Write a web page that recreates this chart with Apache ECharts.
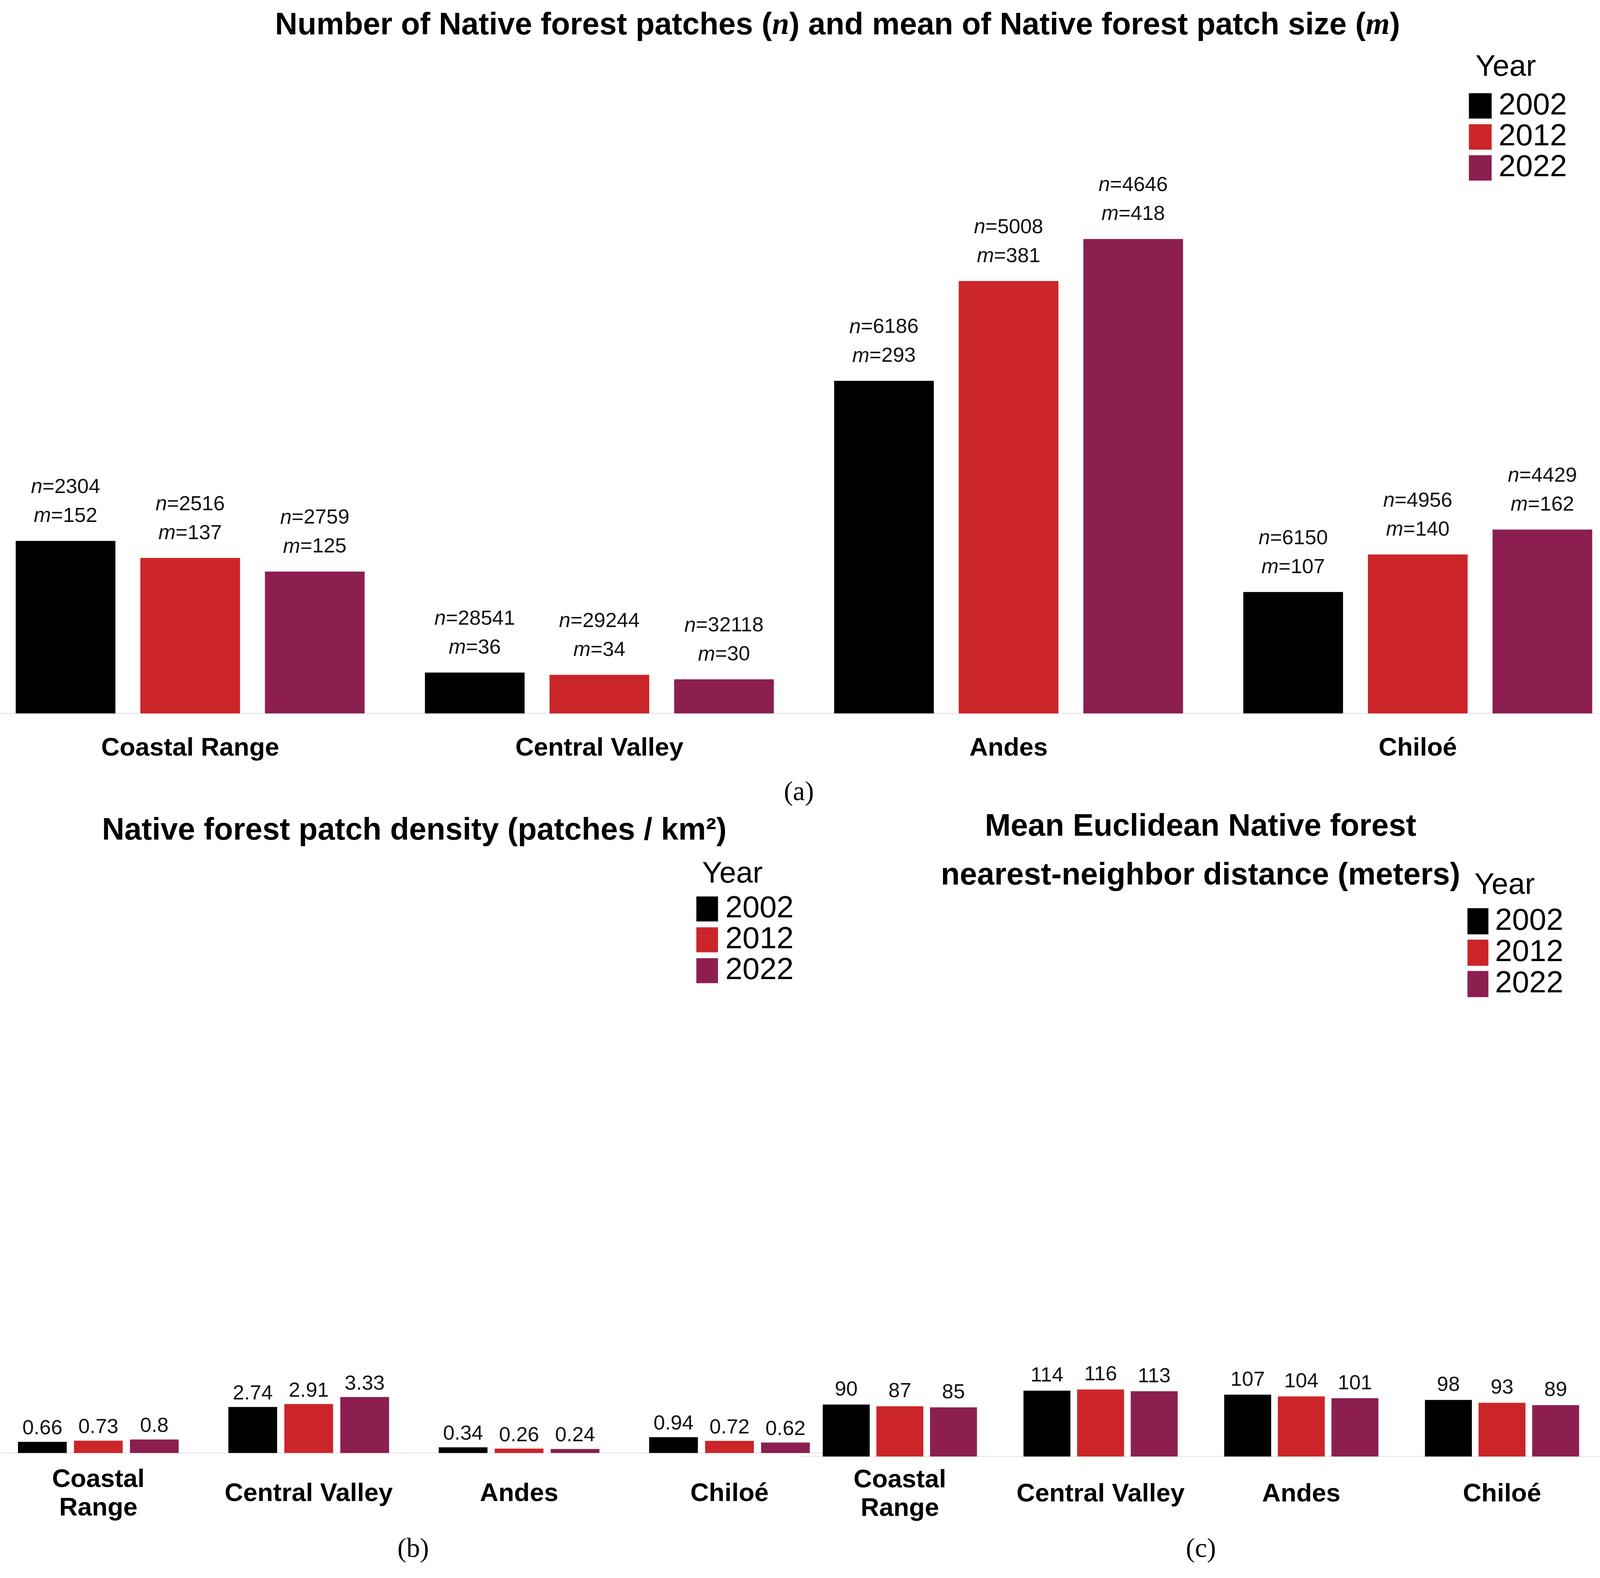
<!DOCTYPE html>
<html>
<head>
<meta charset="utf-8">
<script src="https://cdn.jsdelivr.net/npm/echarts@6/dist/echarts.min.js"></script>
<style>
html,body{margin:0;padding:0;background:#fff;overflow:hidden;}
#chart{width:100vw;height:100vh;}
</style>
</head>
<body>
<div id="chart"></div>
<script>
// ---- data ----
const categories = ['Coastal Range', 'Central Valley', 'Andes', 'Chiloé'];
const years = ['2002', '2012', '2022'];
const colors = ['#000000', '#cc2529', '#8c1f50'];

// (a) number of patches (n) and mean patch size (m)
const patchCount2002 = [2304, 28541, 6186, 6150];
const patchCount2012 = [2516, 29244, 5008, 4956];
const patchCount2022 = [2759, 32118, 4646, 4429];
const meanSize2002 = [152, 36, 293, 107];
const meanSize2012 = [137, 34, 381, 140];
const meanSize2022 = [125, 30, 418, 162];

// (b) patch density (patches / km2)
const density2002 = [0.66, 2.74, 0.34, 0.94];
const density2012 = [0.73, 2.91, 0.26, 0.72];
const density2022 = [0.8, 3.33, 0.24, 0.62];

// (c) mean euclidean nearest-neighbour distance (m)
const nnDistance2002 = [90, 114, 107, 98];
const nnDistance2012 = [87, 116, 104, 93];
const nnDistance2022 = [85, 113, 101, 89];

const patchCounts = [patchCount2002, patchCount2012, patchCount2022];
const meanSizes = [meanSize2002, meanSize2012, meanSize2022];
const densities = [density2002, density2012, density2022];
const nnDistances = [nnDistance2002, nnDistance2012, nnDistance2022];

// ---- layout scaling (designed for 4430 x 4039) ----
const el = document.getElementById('chart');
const W = el.clientWidth || 4430, H = el.clientHeight || 4039;
const sx = W / 4430, sy = H / 4039, sf = Math.min(sx, sy);
const X = v => v * sx, Y = v => v * sy, F = v => v * sf;

const SANS = 'Liberation Sans';
const SERIF = 'Liberation Serif';
const chart = echarts.init(el, null, {renderer: 'canvas'});

const valueLabelStyle = {fontSize: F(57), fontFamily: SANS, color: '#111'};

function catAxis(gridIndex, margin, twoLine) {
  return {
    type: 'category', gridIndex: gridIndex, data: categories,
    axisLine: {show: true, lineStyle: {color: '#ebebeb', width: F(4)}},
    axisTick: {show: false},
    axisLabel: {
      interval: 0, margin: Y(margin), verticalAlign: 'middle', lineHeight: F(79),
      fontSize: F(71), fontWeight: 'bold', fontFamily: SANS, color: '#000',
      formatter: function (v) { return twoLine && v === 'Coastal Range' ? 'Coastal\nRange' : v; }
    }
  };
}
function valAxis(gridIndex, max) {
  return {type: 'value', gridIndex: gridIndex, min: 0, max: max, show: false, splitLine: {show: false}};
}

const series = [];
years.forEach(function (yr, k) {
  series.push({
    type: 'bar', name: yr, xAxisIndex: 0, yAxisIndex: 0, data: meanSizes[k],
    barWidth: X(276), barGap: '25%', itemStyle: {color: colors[k]},
    label: {
      show: true, position: 'top', distance: Y(26),
      formatter: function (p) {
        return '{i|n}{t|=' + patchCounts[k][p.dataIndex] + '}\n{i|m}{t|=' + meanSizes[k][p.dataIndex] + '}';
      },
      rich: {
        i: Object.assign({fontStyle: 'italic', lineHeight: F(80)}, valueLabelStyle),
        t: Object.assign({lineHeight: F(80)}, valueLabelStyle)
      }
    }
  });
});
years.forEach(function (yr, k) {
  series.push({
    type: 'bar', name: yr, xAxisIndex: 1, yAxisIndex: 1, data: densities[k],
    barWidth: X(135), barGap: '14.8%', itemStyle: {color: colors[k]},
    label: Object.assign({show: true, position: 'top', distance: Y(6), lineHeight: F(60)}, valueLabelStyle)
  });
});
years.forEach(function (yr, k) {
  series.push({
    type: 'bar', name: yr, xAxisIndex: 2, yAxisIndex: 2, data: nnDistances[k],
    barWidth: X(130), barGap: '14.2%', itemStyle: {color: colors[k]},
    label: Object.assign({show: true, position: 'top', distance: Y(10), lineHeight: F(60)}, valueLabelStyle)
  });
});

const LEG_FONT = 85;
function legendAt(left, firstCenter, w, h, spacing, pad) {
  const textH = F(LEG_FONT);
  const itemH = Y(h);
  return {
    orient: 'vertical', left: X(left), top: Y(firstCenter) - itemH / 2, padding: 0, data: years, icon: 'rect',
    itemWidth: X(w), itemHeight: itemH, itemGap: Math.max(0, Y(spacing) - Math.max(textH, itemH)), selectedMode: false,
    textStyle: {fontSize: textH, fontFamily: SANS, color: '#000', padding: [0, 0, 0, X(pad)]}
  };
}

function txt(x, y, text, size, weight, family, extra) {
  const st = {
    text: text, x: 0, y: 0, fill: '#000',
    font: (weight || 'normal') + ' ' + F(size) + 'px "' + family + '"',
    fontSize: F(size), fontWeight: weight || 'normal', fontFamily: family,
    align: 'center', verticalAlign: 'middle', textAlign: 'center', textVerticalAlign: 'middle'
  };
  return {type: 'text', x: X(x), y: Y(y), style: Object.assign(st, extra || {}), z: 100};
}

const TS = 86;
const titleRich = {
  b: {fontSize: F(TS), fontWeight: 'bold', fontFamily: SANS, fill: '#000', color: '#000'},
  i: {fontSize: F(TS), fontWeight: 'bold', fontStyle: 'italic', fontFamily: SERIF, fill: '#000', color: '#000'}
};

const option = {
  backgroundColor: '#ffffff',
  animation: false,
  grid: [
    {left: X(-40), width: X(4532), top: Y(373.5), height: Y(1452.5), containLabel: false, outerBoundsMode: 'none'},
    {left: X(-19), width: X(2330), top: Y(3547), height: Y(172), containLabel: false, outerBoundsMode: 'none'},
    {left: X(2213.6), width: X(2223), top: Y(3506.3), height: Y(221.7), containLabel: false, outerBoundsMode: 'none'}
  ],
  xAxis: [catAxis(0, 90, false), catAxis(1, 105, true), catAxis(2, 97, true)],
  yAxis: [valAxis(0, 500), valAxis(1, 4), valAxis(2, 150)],
  legend: [
    legendAt(4067, 264, 63, 65, 79, 14),
    legendAt(1928, 2319, 60, 64, 77.5, 15),
    legendAt(4063, 2352, 58, 67, 80, 13)
  ],
  series: series,
  graphic: {elements: [
    txt(2319, 66, '{b|Number of Native forest patches (}{i|n}{b|) and mean of Native forest patch size (}{i|m}{b|)}', TS, 'bold', SANS, {rich: titleRich}),
    txt(1147, 2127, 'Native forest patch density (patches / km²)', TS, 'bold', SANS),
    txt(3324, 2180, 'Mean Euclidean Native forest\nnearest-neighbor distance (meters)', TS, 'bold', SANS, {lineHeight: Y(125)}),
    txt(4169, 173, 'Year', 83, 'normal', SANS),
    txt(2028, 2238, 'Year', 83, 'normal', SANS),
    txt(4166, 2267, 'Year', 83, 'normal', SANS),
    txt(2212, 2030, '(a)', 75, 'normal', SERIF),
    txt(1144, 3967, '(b)', 75, 'normal', SERIF),
    txt(3325, 3967, '(c)', 75, 'normal', SERIF)
  ]}
};
chart.setOption(option);
</script>
</body>
</html>
